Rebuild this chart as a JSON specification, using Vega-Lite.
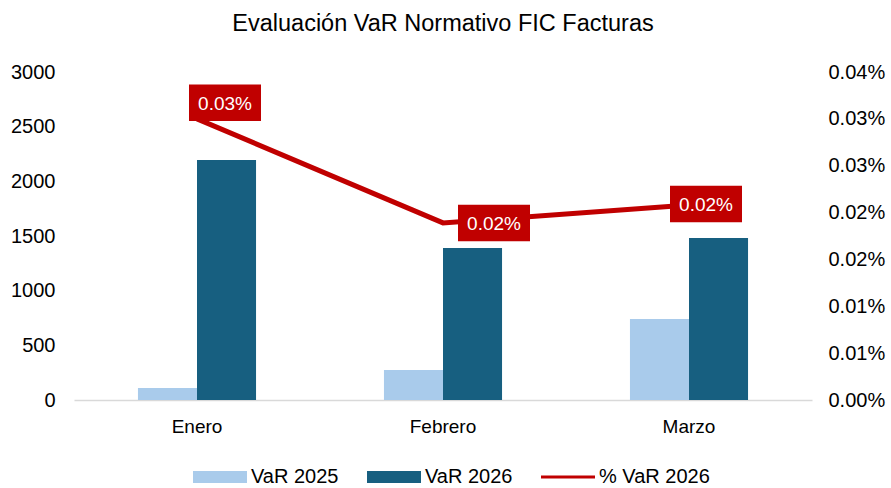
{
  "$schema": "https://vega.github.io/schema/vega-lite/v6.json",
  "autosize": {"type": "none"},
  "padding": {"left": 74, "top": 72, "right": 79, "bottom": 88},
  "width": 738,
  "height": 328,
  "background": "white",
  "config": {"view": {"stroke": null}},
  "title": {
    "text": "Evaluación VaR Normativo FIC Facturas",
    "font": "Liberation Sans",
    "fontSize": 23.5,
    "fontWeight": "normal",
    "color": "#000000",
    "anchor": "middle",
    "offset": 27
  },
  "datasets": {
    "bars": [
      {"month": "Enero", "series": "VaR 2025", "value": 110},
      {"month": "Enero", "series": "VaR 2026", "value": 2195},
      {"month": "Febrero", "series": "VaR 2025", "value": 274},
      {"month": "Febrero", "series": "VaR 2026", "value": 1390},
      {"month": "Marzo", "series": "VaR 2025", "value": 741},
      {"month": "Marzo", "series": "VaR 2026", "value": 1482}
    ],
    "pct": [
      {"month": "Enero", "pct": 0.0003, "label": "0.03%"},
      {"month": "Febrero", "pct": 0.000189, "label": "0.02%"},
      {"month": "Marzo", "pct": 0.000208, "label": "0.02%"}
    ]
  },
  "layer": [
    {
      "data": {"name": "bars"},
      "mark": {"type": "bar"},
      "encoding": {
        "x": {
          "field": "month", "type": "nominal", "sort": ["Enero", "Febrero", "Marzo"],
          "scale": {"paddingInner": 0.52, "paddingOuter": 0.26},
          "axis": {
            "title": null, "labelAngle": 0, "ticks": false,
            "domainColor": "#D9D9D9", "domainWidth": 1.5,
            "labelFont": "Liberation Sans", "labelFontSize": 19,
            "labelColor": "#000000", "labelPadding": 17
          }
        },
        "xOffset": {"field": "series", "type": "nominal", "sort": ["VaR 2025", "VaR 2026"]},
        "y": {
          "field": "value", "type": "quantitative",
          "scale": {"domain": [0, 3000], "nice": false},
          "axis": {
            "title": null, "values": [0, 500, 1000, 1500, 2000, 2500, 3000],
            "format": "d",
            "grid": false, "domain": false, "ticks": false,
            "labelFont": "Liberation Sans", "labelFontSize": 20,
            "labelColor": "#000000", "labelPadding": 19
          }
        },
        "color": {
          "field": "series", "type": "nominal",
          "scale": {
            "domain": ["VaR 2025", "VaR 2026", "% VaR 2026"],
            "range": ["#A9CBEB", "#175F80", "#C00000"]
          },
          "legend": {
            "title": null,
            "orient": "none",
            "legendX": 119,
            "legendY": 378,
            "direction": "horizontal",
            "columns": 3,
            "columnPadding": 28,
            "symbolSize": 2916,
            "labelFont": "Liberation Sans",
            "labelFontSize": 20,
            "labelColor": "#000000",
            "labelOffset": 4,
            "symbolStrokeWidth": 0,
            "encode": {
              "symbols": {
                "update": {
                  "shape": {"signal": "datum.value === '% VaR 2026' ? 'M-1,-0.055H1V0.055H-1Z' : 'M-1,-0.22H1V0.22H-1Z'"},
                  "strokeWidth": {"value": 0}
                }
              }
            }
          }
        }
      }
    },
    {
      "data": {"name": "pct"},
      "encoding": {
        "x": {"field": "month", "type": "nominal", "sort": ["Enero", "Febrero", "Marzo"]},
        "y": {
          "field": "pct", "type": "quantitative",
          "scale": {"domain": [0, 0.00035], "nice": false},
          "axis": {
            "orient": "right", "title": null,
            "values": [0, 0.00005, 0.0001, 0.00015, 0.0002, 0.00025, 0.0003, 0.00035],
            "labelExpr": "format(datum.value + 1e-12, '.2%')",
            "grid": false, "domain": false, "ticks": false,
            "labelFont": "Liberation Sans", "labelFontSize": 20,
            "labelColor": "#000000", "labelPadding": 16
          }
        }
      },
      "layer": [
        {
          "mark": {"type": "line", "color": "#C00000", "strokeWidth": 5},
          "encoding": {"color": {"datum": "% VaR 2026"}}
        },
        {
          "transform": [{"filter": "datum.month === 'Enero'"}],
          "layer": [
            {"mark": {"type": "point", "shape": "M-1,-0.507H1V0.507H-1Z", "size": 5184, "filled": true, "fill": "#C00000", "opacity": 1, "strokeWidth": 0, "xOffset": 28, "yOffset": -16}},
            {"mark": {"type": "text", "color": "#FFFFFF", "font": "Liberation Sans", "fontSize": 19, "align": "center", "baseline": "middle", "xOffset": 28, "yOffset": -15}, "encoding": {"text": {"field": "label"}}}
          ]
        },
        {
          "transform": [{"filter": "datum.month === 'Febrero'"}],
          "layer": [
            {"mark": {"type": "point", "shape": "M-1,-0.507H1V0.507H-1Z", "size": 5184, "filled": true, "fill": "#C00000", "opacity": 1, "strokeWidth": 0, "xOffset": 51, "yOffset": 0}},
            {"mark": {"type": "text", "color": "#FFFFFF", "font": "Liberation Sans", "fontSize": 19, "align": "center", "baseline": "middle", "xOffset": 51, "yOffset": 1}, "encoding": {"text": {"field": "label"}}}
          ]
        },
        {
          "transform": [{"filter": "datum.month === 'Marzo'"}],
          "layer": [
            {"mark": {"type": "point", "shape": "M-1,-0.507H1V0.507H-1Z", "size": 5184, "filled": true, "fill": "#C00000", "opacity": 1, "strokeWidth": 0, "xOffset": 17, "yOffset": -1}},
            {"mark": {"type": "text", "color": "#FFFFFF", "font": "Liberation Sans", "fontSize": 19, "align": "center", "baseline": "middle", "xOffset": 17, "yOffset": 0}, "encoding": {"text": {"field": "label"}}}
          ]
        }
      ]
    }
  ],
  "resolve": {"scale": {"y": "independent"}}
}
